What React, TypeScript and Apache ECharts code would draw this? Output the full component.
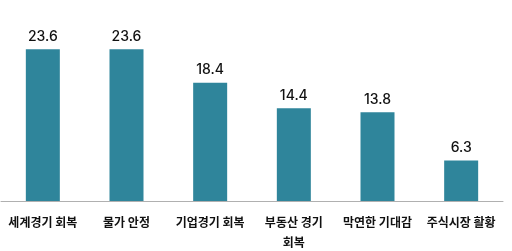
import React, { useEffect, useRef } from "react";
import * as echarts from "echarts";

const categories = ["세계경기 회복", "물가 안정", "기업경기 회복", "부동산 경기 회복", "막연한 기대감", "주식시장 활황"];
const values = [23.6, 23.6, 18.4, 14.4, 13.8, 6.3];

export default function App() {
  const ref = useRef<HTMLDivElement>(null);
  useEffect(() => {
    if (!ref.current) return;
    const chart = echarts.init(ref.current, null, { renderer: "svg" });
    chart.setOption({
      animation: false,
      grid: { left: 1, right: 9, top: 8, bottom: 49, containLabel: false },
      xAxis: {
        type: "category",
        data: categories,
        axisLine: { lineStyle: { color: "#b0b0b0", width: 1 } },
        axisTick: { show: false },
        axisLabel: {
          color: "#111",
          fontSize: 12,
          fontFamily: "Noto Sans CJK KR",
          fontWeight: "bold",
          margin: 10,
          lineHeight: 20,
          interval: 0,
          formatter: (v: string) => (v.length > 7 ? v.replace(/ (\S+)$/, "\n$1") : v),
        },
      },
      yAxis: {
        type: "value",
        min: 0,
        max: 30,
        show: false,
        splitLine: { show: false },
      },
      series: [
        {
          type: "bar",
          data: values,
          barWidth: 34,
          itemStyle: { color: "#2f859b" },
          label: {
            show: true,
            position: "top",
            distance: 7,
            color: "#111",
            fontSize: 14,
            fontFamily: "Inter, Noto Sans",
            fontWeight: 500,
            formatter: (p: any) => p.value.toFixed(1),
          },
        },
      ],
    });
    return () => chart.dispose();
  }, []);
  return <div ref={ref} style={{ position: "fixed", left: 0, top: 0, width: 512, height: 251 }} />;
}
